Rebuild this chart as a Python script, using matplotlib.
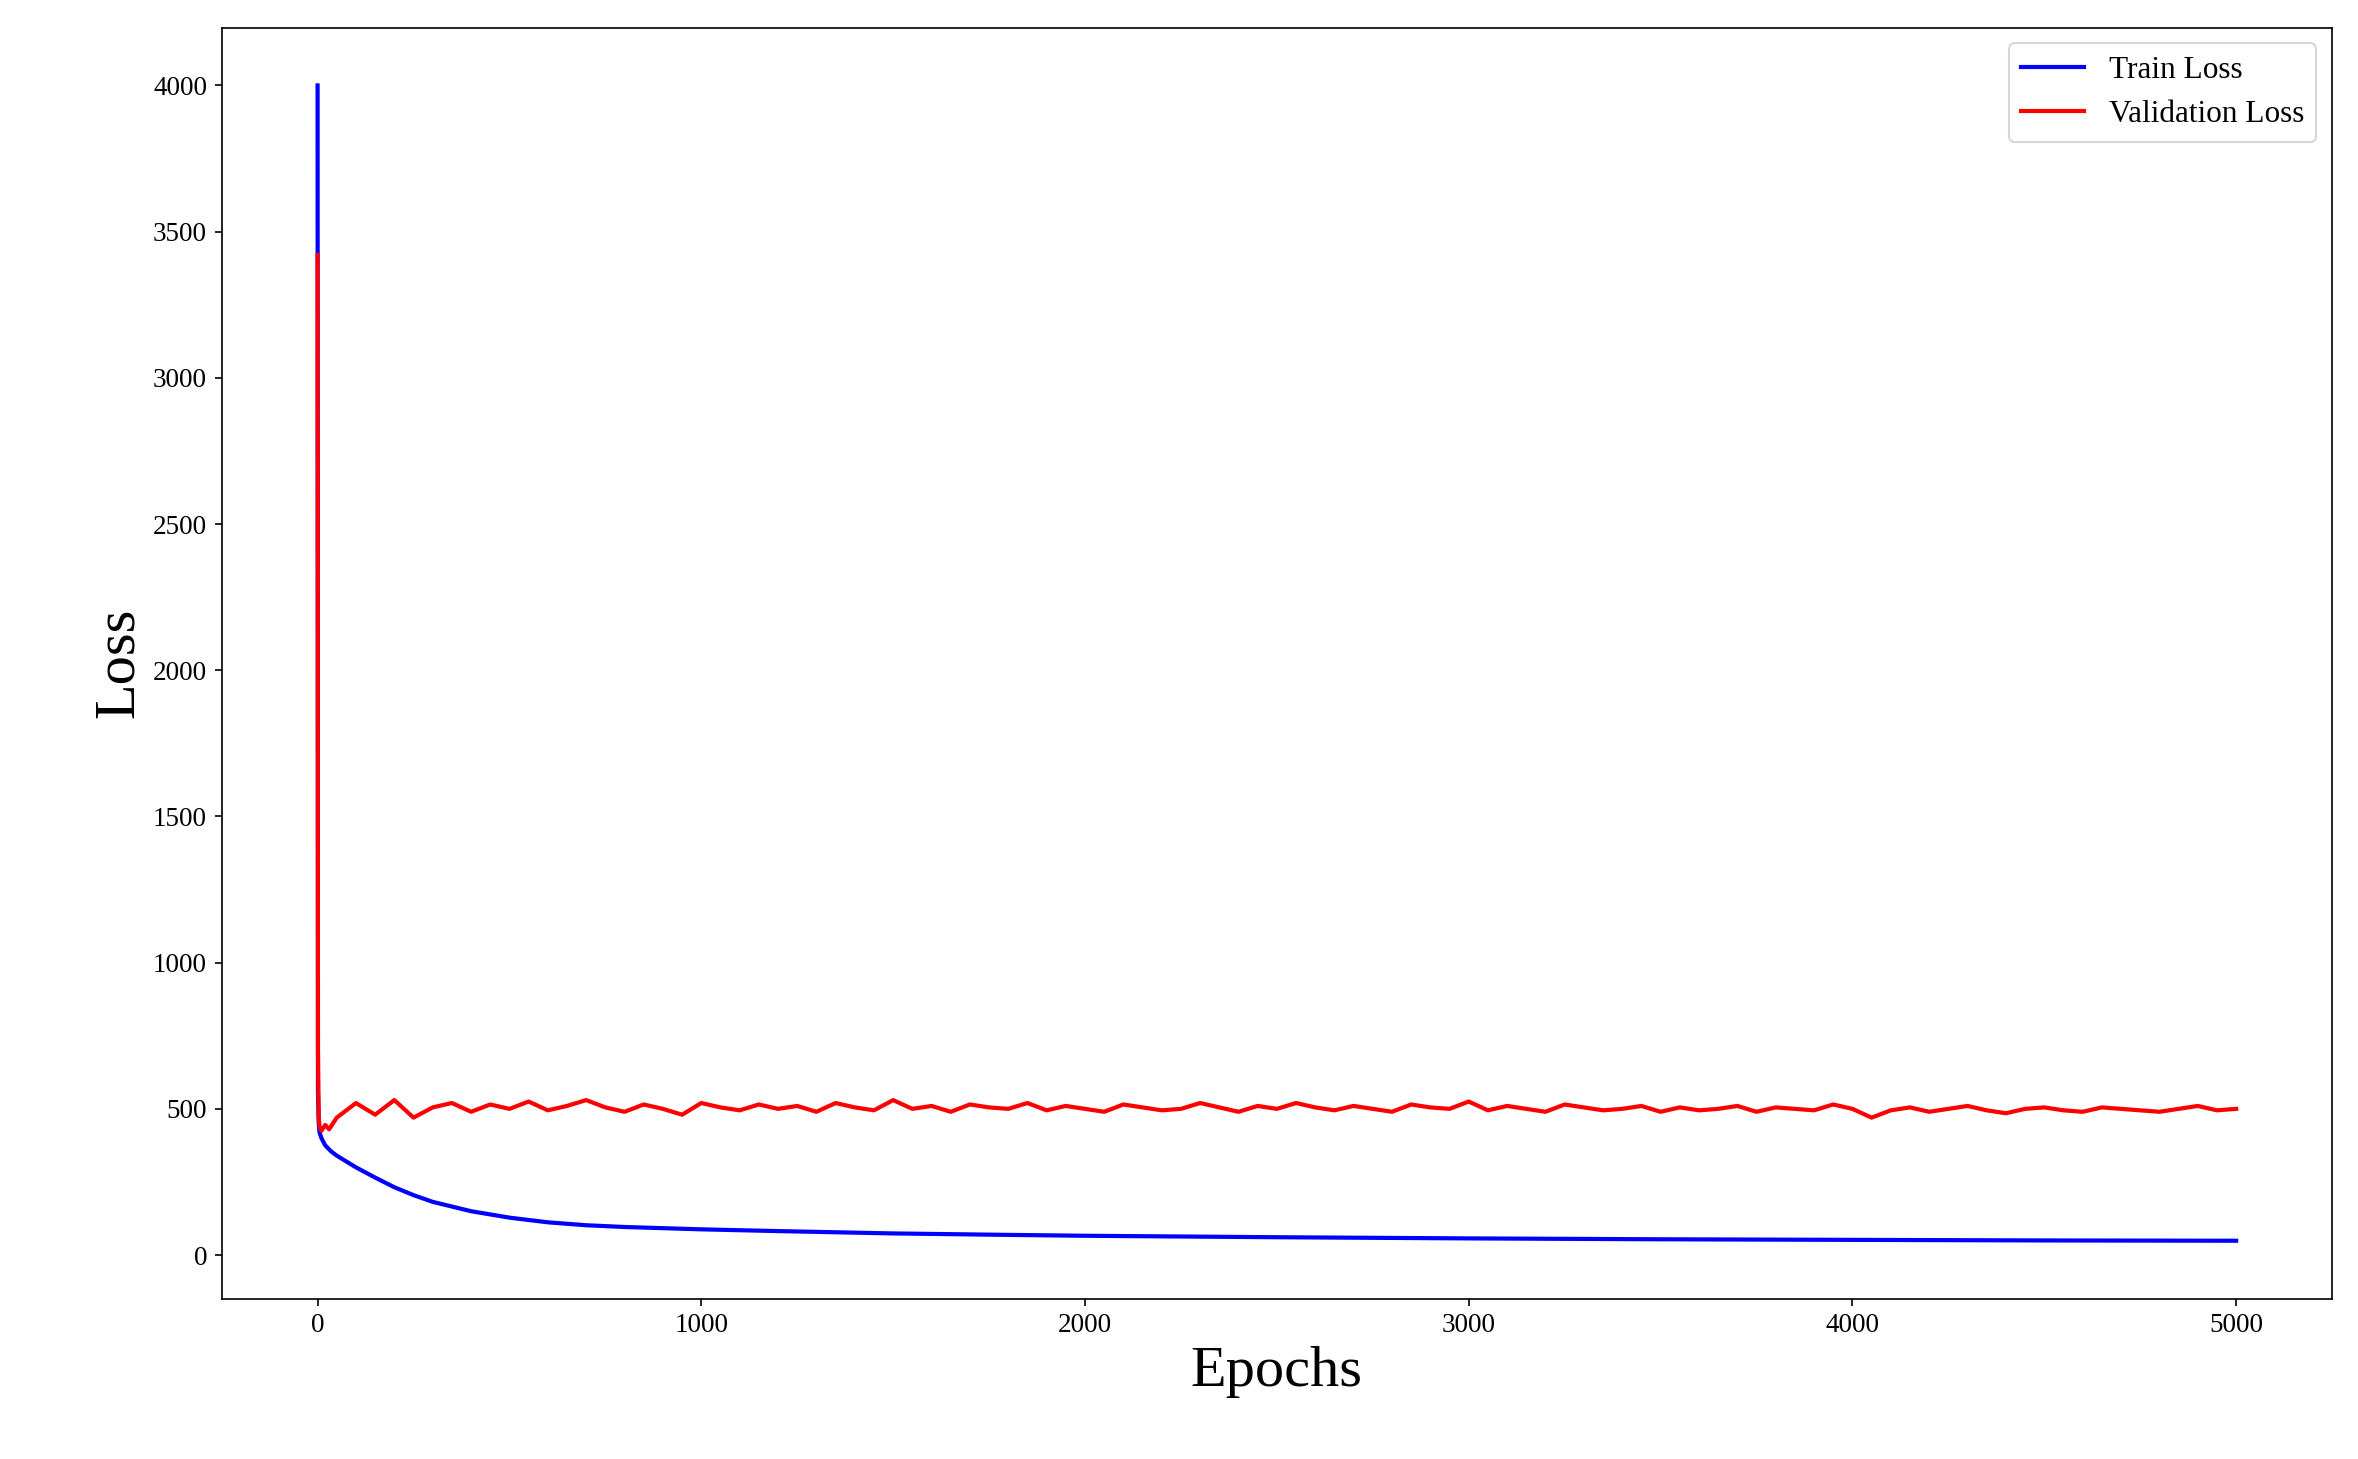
import matplotlib.pyplot as plt

plt.rcParams['font.family'] = ['Liberation Serif', 'DejaVu Serif']

# train loss
train_epochs = [0, 1, 3, 5, 10, 20, 35, 50, 75, 100, 150, 200, 250, 300, 400, 500, 600, 700, 800,
                1000, 1200, 1500, 1800, 2000, 2500, 3000, 3500, 4000, 4500, 5000]
train_loss = [4000, 560, 450, 420, 400, 375, 355, 340, 320, 300, 265, 232, 205, 182, 150, 128, 112,
              102, 96, 88, 82, 74, 69, 66, 61, 57, 54, 52, 50, 49]

# validation loss, sampled every 50 epochs after the first few
val_epochs = [0, 1, 3, 5, 10, 20, 30] + list(range(50, 5001, 50))
val_loss = [3420, 700, 470, 440, 425, 445, 430,
            470, 520, 480, 530, 470, 505, 520, 490, 515, 500,
            525, 495, 510, 530, 505, 490, 515, 500, 480, 520,
            505, 495, 515, 500, 510, 490, 520, 505, 495, 530,
            500, 510, 490, 515, 505, 500, 520, 495, 510, 500,
            490, 515, 505, 495, 500, 520, 505, 490, 510, 500,
            520, 505, 495, 510, 500, 490, 515, 505, 500, 525,
            495, 510, 500, 490, 515, 505, 495, 500, 510, 490,
            505, 495, 500, 510, 490, 505, 500, 495, 515, 500,
            470, 495, 505, 490, 500, 510, 495, 485, 500, 505,
            495, 490, 505, 500, 495, 490, 500, 510, 495, 500]

fig = plt.figure(figsize=(15.72, 9.727), dpi=150)
ax = fig.add_axes([0.094, 0.11, 0.895, 0.871])
ax.plot(train_epochs, train_loss, color='blue', linewidth=2, label='Train Loss')
ax.plot(val_epochs, val_loss, color='red', linewidth=2, label='Validation Loss')
ax.set_xlabel('Epochs', fontsize=28)
ax.set_ylabel('Loss', fontsize=28)
ax.tick_params(labelsize=13)
ax.legend(fontsize=15, loc='upper right')

fig.savefig('out.png', dpi=150)
